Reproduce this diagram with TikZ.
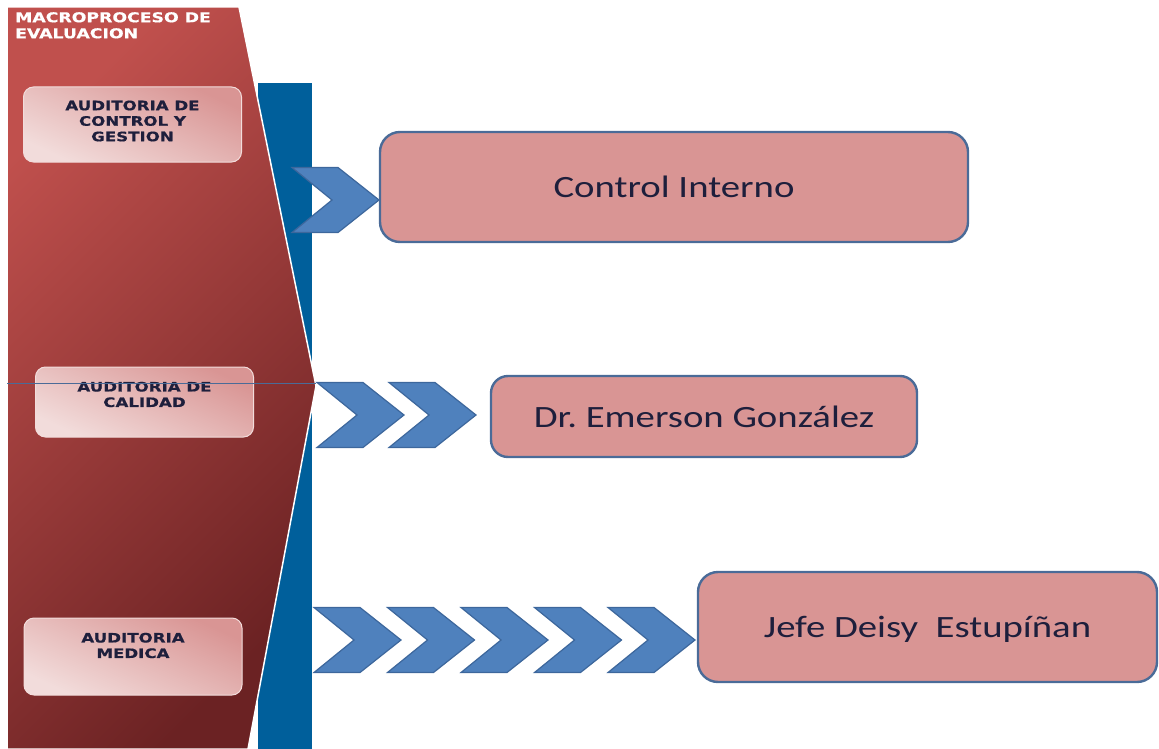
\documentclass[tikz,border=0pt]{standalone}
\usepackage{fontspec}
\newfontfamily\verd[FakeStretch=1.28, FakeBold=0.6]{DejaVu Sans Bold}
\newfontfamily\cali[FakeStretch=1.25]{Carlito}
\definecolor{redlight}{HTML}{C0504D}
\definecolor{reddark}{HTML}{6B2223}
\definecolor{bandblue}{HTML}{005F9B}
\definecolor{chevblue}{HTML}{4F81BD}
\definecolor{chevline}{HTML}{3D679C}
\definecolor{boxpink}{HTML}{D99594}
\definecolor{boxline}{HTML}{4A6B98}
\definecolor{paleink}{HTML}{F2DCDB}
\definecolor{navyink}{HTML}{1E1F3C}
\begin{document}
\begin{tikzpicture}[x=1pt, y=-1pt,
    subbox/.style={rounded corners=10pt, draw=paleink, line width=1pt, top color=boxpink, bottom color=paleink, shading angle=-25, minimum width=218pt, inner sep=0pt},
    subtext/.style={font=\verd\fontsize{13}{15.5}\selectfont, text=navyink, align=center, inner sep=0pt},
    whobox/.style={draw=boxline, line width=2.4pt, fill=boxpink, rounded corners=20pt, font=\cali\fontsize{31}{36}\selectfont, text=navyink, text depth=0pt, inner sep=0pt},
    chev/.style={fill=chevblue, draw=chevline, line width=1.2pt, line join=miter},
    chevron/.pic={\path[chev] (0,0) -- (46,0) -- (87,32.5) -- (46,65) -- (0,65) -- (40,32.5) -- cycle;}]
  \useasboundingbox (0,0) rectangle (1159,749);
  % band and macroprocess
  \fill[bandblue] (258,83) rectangle (312,749);
  \draw[draw=white, line width=1.5pt, top color=redlight, bottom color=reddark, shading angle=45]
    (7,7) -- (239,7) -- (316,386) -- (248,749) -- (7,749) -- cycle;
  \node[anchor=north west, inner sep=0pt, align=left, text=white, font=\verd\fontsize{13.5}{16}\selectfont] (macro) at (15,12) {MACROPROCESO DE\\EVALUACION};
  % audits
  \node[subbox, minimum height=75pt] (audctl) at (132.5,124.5) {};
  \node[subtext] (audctltx) at ([yshift=3.5pt]audctl.center) {AUDITORIA DE\\CONTROL Y\\GESTION};
  \node[subbox, minimum height=70pt] (audcal) at (144.5,402) {};
  \node[subtext] (audcaltx) at ([yshift=7.5pt]audcal.center) {AUDITORIA DE\\CALIDAD};
  \node[subbox, minimum height=77pt] (audmed) at (133,656.5) {};
  \node[subtext] (audmedtx) at ([yshift=11pt]audmed.center) {AUDITORIA\\MEDICA};
  \draw[boxline, line width=0.8pt] (7,383) -- (316,383);
  % chevrons
  \pic at (292,167.5) {chevron};
  \foreach \i in {0,1}
    \pic at (317+72*\i,382.5) {chevron};
  \foreach \i in {0,...,4}
    \pic at (314+73.5*\i,607.5) {chevron};
  % people
  \node[whobox, minimum width=588pt, minimum height=110pt] (ctrl) at (674,187) {Control Interno};
  \node[whobox, minimum width=426pt, minimum height=81pt, rounded corners=17pt] (gonz) at (704,416.5) {Dr.\ Emerson González};
  \node[whobox, minimum width=459pt, minimum height=110pt] (deisy) at (927.5,627) {Jefe Deisy\ \ Estupíñan};
\end{tikzpicture}
\end{document}
